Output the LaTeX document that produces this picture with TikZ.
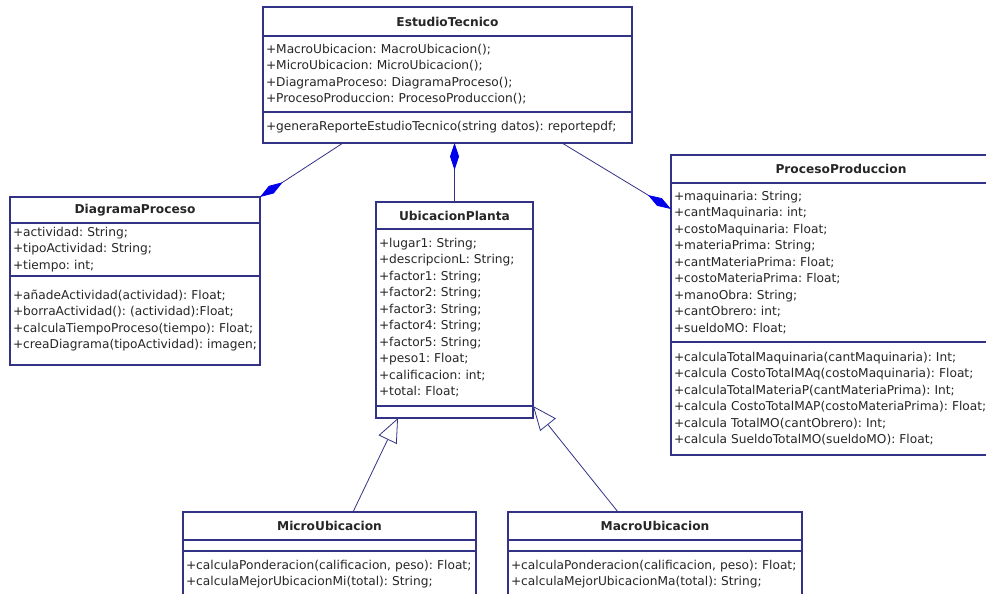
\documentclass[tikz,border=0pt]{standalone}
\usepackage{fontspec}
\setmainfont{DejaVu Sans}
\usetikzlibrary{arrows.meta}
\definecolor{umlborde}{RGB}{50,50,135}
\definecolor{umlrombo}{RGB}{0,0,235}
\begin{document}
\begin{tikzpicture}[x=1pt,y=-1pt,
    every node/.style={draw=umlborde,line width=1.2pt,outer sep=0pt,anchor=north west,inner xsep=3pt,inner ysep=0pt,align=left,text=black!85,
      font=\fontsize{12.2}{16.5}\selectfont,execute at begin node={\frenchspacing\hyphenpenalty10000\relax}},
    titulo/.style={align=center,font=\fontsize{12.2}{16.5}\selectfont\bfseries},
    comp/.style={draw=umlborde,line width=0.8pt,-{Diamond[length=27pt,width=9pt,color=umlrombo,fill=umlrombo]}},
    hereda/.style={draw=umlborde,line width=0.8pt,-{Triangle[open,length=24pt,width=20pt,fill=white]}}]
\useasboundingbox[fill=white] (0,0) rectangle (986,594);
\node[titulo,text width=363pt,minimum height=29pt] (estT) at (263,7) {EstudioTecnico};
\node[text width=363pt,minimum height=76pt] (estA) at (estT.south west) {+MacroUbicacion: MacroUbicacion();\\+MicroUbicacion: MicroUbicacion();\\+DiagramaProceso: DiagramaProceso();\\+ProcesoProduccion: ProcesoProduccion();};
\node[text width=363pt,minimum height=31pt] (estM) at (estA.south west) {+generaReporteEstudioTecnico(string datos): reportepdf;};
\node[titulo,text width=244pt,minimum height=26pt] (diagT) at (10,197) {DiagramaProceso};
\node[text width=244pt,minimum height=53pt] (diagA) at (diagT.south west) {+actividad: String;\\+tipoActividad: String;\\+tiempo: int;};
\node[text width=244pt,minimum height=89pt] (diagM) at (diagA.south west) {+añadeActividad(actividad): Float;\\+borraActividad(): (actividad):Float;\\+calculaTiempoProceso(tiempo): Float;\\+creaDiagrama(tipoActividad):~imagen;};
\node[titulo,text width=151pt,minimum height=27pt] (ubicT) at (376,202) {UbicacionPlanta};
\node[text width=151pt,minimum height=177pt] (ubicA) at (ubicT.south west) {+lugar1: String;\\+descripcionL: String;\\+factor1: String;\\+factor2: String;\\+factor3: String;\\+factor4: String;\\+factor5: String;\\+peso1: Float;\\+calificacion: int;\\+total: Float;};
\node[text width=151pt,minimum height=12pt] (ubicM) at (ubicA.south west) {};
\node[titulo,text width=334pt,minimum height=28pt] (procT) at (671,155) {ProcesoProduccion};
\node[text width=334pt,minimum height=159pt] (procA) at (procT.south west) {+maquinaria: String;\\+cantMaquinaria: int;\\+costoMaquinaria: Float;\\+materiaPrima: String;\\+cantMateriaPrima: Float;\\+costoMateriaPrima: Float;\\+manoObra: String;\\+cantObrero: int;\\+sueldoMO: Float;};
\node[text width=334pt,minimum height=113pt] (procM) at (procA.south west) {+calculaTotalMaquinaria(cantMaquinaria): Int;\\+calcula CostoTotalMAq(costoMaquinaria): Float;\\+calculaTotalMateriaP(cantMateriaPrima): Int;\\+calcula CostoTotalMAP(costoMateriaPrima): Float;\\+calcula TotalMO(cantObrero): Int;\\+calcula SueldoTotalMO(sueldoMO): Float;};
\node[titulo,text width=287pt,minimum height=28pt] (microT) at (183,512) {MicroUbicacion};
\node[text width=287pt,minimum height=11pt] (microA) at (microT.south west) {};
\node[text width=287pt,minimum height=46pt] (microM) at (microA.south west) {+calculaPonderacion(calificacion, peso): Float;\\+calculaMejorUbicacionMi(total): String;};
\node[titulo,text width=288pt,minimum height=28pt] (macroT) at (508,512) {MacroUbicacion};
\node[text width=288pt,minimum height=11pt] (macroA) at (macroT.south west) {};
\node[text width=288pt,minimum height=46pt] (macroM) at (macroA.south west) {+calculaPonderacion(calificacion, peso): Float;\\+calculaMejorUbicacionMa(total): String;};
\draw[comp] ([xshift=80pt]estM.south west) -- (diagT.north east);
\draw[comp] (ubicT.north) -- (ubicT.north |- estM.south);
\draw[comp] ([xshift=-70pt]estM.south east) -- ([yshift=-26pt]procT.south west);
\draw[hereda] ([xshift=170pt]microT.north west) -- ([xshift=22pt]ubicM.south west);
\draw[hereda] ([xshift=110pt]macroT.north west) -- (ubicM.north east);
\end{tikzpicture}
\end{document}
